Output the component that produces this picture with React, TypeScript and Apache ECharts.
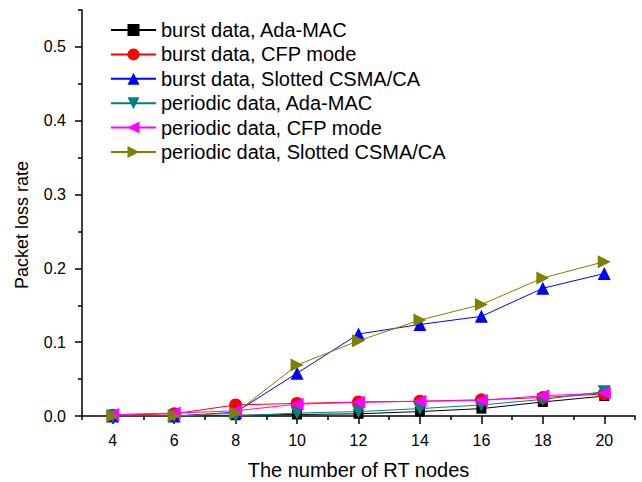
import React, { useEffect, useRef } from "react";
import * as echarts from "echarts";

const xValues = [4, 6, 8, 10, 12, 14, 16, 18, 20];
const burstAda = [0, 0, 0.001, 0.002, 0.003, 0.006, 0.01, 0.019, 0.027];
const burstCfp = [0.001, 0.003, 0.015, 0.017, 0.019, 0.02, 0.022, 0.025, 0.03];
const burstSlotted = [0, 0, 0.005, 0.058, 0.111, 0.124, 0.135, 0.173, 0.193];
const periodicAda = [0, 0, 0, 0.004, 0.006, 0.01, 0.015, 0.0225, 0.033];
const periodicCfp = [0.002, 0.004, 0.007, 0.016, 0.0185, 0.02, 0.021, 0.0275, 0.031];
const periodicSlotted = [0, 0, 0.004, 0.069, 0.102, 0.13, 0.151, 0.187, 0.209];

const xMajor = [4, 6, 8, 10, 12, 14, 16, 18, 20];
const xMinor = [3, 5, 7, 9, 11, 13, 15, 17, 19, 21];
const yMajor = [0, 0.1, 0.2, 0.3, 0.4, 0.5];
const yMinor = [0.05, 0.15, 0.25, 0.35, 0.45, 0.55];

const seriesNames = [
  "burst data, Ada-MAC",
  "burst data, CFP mode",
  "burst data, Slotted CSMA/CA",
  "periodic data, Ada-MAC",
  "periodic data, CFP mode",
  "periodic data, Slotted CSMA/CA",
];

export default function App() {
  const ref = useRef<HTMLDivElement>(null);
  useEffect(() => {
    if (!ref.current) return;
    const chart = echarts.init(ref.current, null, { renderer: "svg" });
    const font = "Liberation Sans, Arial, sans-serif";
    const pair = (vals: number[]) => xValues.map((x, i) => [x, vals[i]]);
    const mk = (
      name: string,
      vals: number[],
      color: string,
      symbol: string,
      rotate: number,
      z: number
    ) => ({
      name,
      type: "line",
      data: pair(vals),
      symbol,
      symbolRotate: rotate,
      symbolSize: symbol === "rect" ? 10 : 13,
      showSymbol: true,
      lineStyle: { color, width: 1 },
      itemStyle: { color },
      z,
    });
    const axisCommon = {
      axisLine: { show: true, onZero: false, lineStyle: { color: "#000", width: 1.5 } },
      splitLine: { show: false },
    };
    chart.setOption({
      animation: false,
      backgroundColor: "#fff",
      grid: { left: 82, right: 7, top: 10, bottom: 66, containLabel: false, outerBoundsMode: "none" },
      legend: {
        orient: "vertical",
        left: 110,
        top: 20,
        padding: 0,
        itemWidth: 45,
        itemHeight: 15,
        itemGap: 4.4,
        textStyle: { fontFamily: font, fontSize: 20, color: "#000" },
        data: seriesNames,
      },
      xAxis: [
        {
          type: "value",
          min: 3,
          max: 21,
          ...axisCommon,
          axisTick: { show: true, inside: false, length: 8, customValues: xMajor, lineStyle: { color: "#000", width: 1.5 } },
          axisLabel: { customValues: xMajor, fontFamily: font, fontSize: 16, color: "#000", margin: 16 },
          name: "The number of RT nodes",
          nameLocation: "middle",
          nameGap: 44,
          nameTextStyle: { fontFamily: font, fontSize: 20, color: "#000" },
        },
        {
          type: "value",
          min: 3,
          max: 21,
          position: "bottom",
          axisLine: { show: false },
          splitLine: { show: false },
          axisTick: { show: true, length: 4, customValues: xMinor, lineStyle: { color: "#000", width: 1.5 } },
          axisLabel: { show: false },
        },
      ],
      yAxis: [
        {
          type: "value",
          min: 0,
          max: 0.55,
          ...axisCommon,
          axisTick: { show: true, length: 7, customValues: yMajor, lineStyle: { color: "#000", width: 1.5 } },
          axisLabel: {
            customValues: yMajor,
            formatter: (v: number) => v.toFixed(1),
            fontFamily: font,
            fontSize: 16,
            color: "#000",
            margin: 16,
          },
          name: "Packet loss rate",
          nameLocation: "middle",
          nameGap: 51,
          nameTextStyle: { fontFamily: font, fontSize: 18, color: "#000", padding: [0, 24, 0, 0] },
        },
        {
          type: "value",
          min: 0,
          max: 0.55,
          position: "left",
          axisLine: { show: false },
          splitLine: { show: false },
          axisTick: { show: true, length: 4, customValues: yMinor, lineStyle: { color: "#000", width: 1.5 } },
          axisLabel: { show: false },
        },
      ],
      series: [
        mk(seriesNames[0], burstAda, "#000000", "rect", 0, 2),
        mk(seriesNames[1], burstCfp, "#ff0000", "circle", 0, 3),
        mk(seriesNames[2], burstSlotted, "#0000ff", "triangle", 0, 4),
        mk(seriesNames[3], periodicAda, "#008080", "triangle", 180, 5),
        mk(seriesNames[4], periodicCfp, "#ff00ff", "triangle", 90, 6),
        mk(seriesNames[5], periodicSlotted, "#808000", "triangle", -90, 7),
      ],
    });
    return () => chart.dispose();
  }, []);
  return <div ref={ref} style={{ width: 642, height: 482, position: "absolute", left: 0, top: 0 }} />;
}
